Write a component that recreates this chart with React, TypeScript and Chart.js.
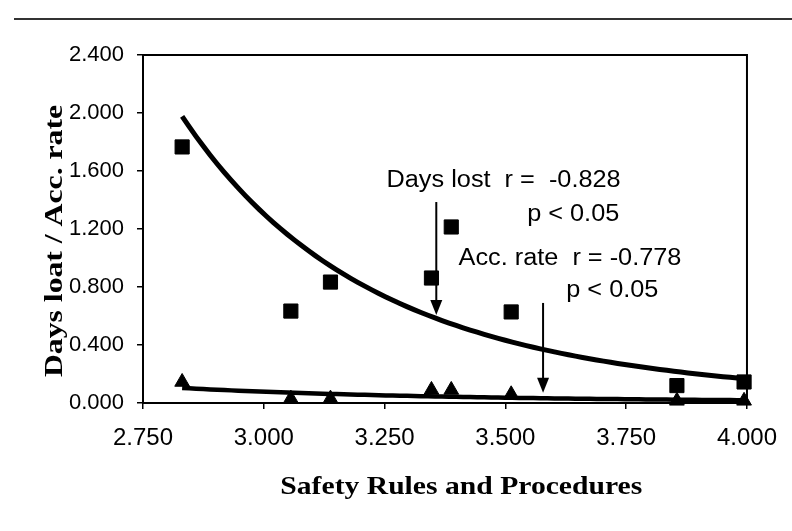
import React, { useEffect, useRef } from 'react';
import { Chart, registerables } from 'chart.js';

Chart.register(...registerables);

// Safety Rules and Procedures score per site, with days lost and accident rate
const safetyScores = [2.831, 3.056, 3.138, 3.347, 3.388, 3.512, 3.855, 3.994];
const daysLost = [1.766, 0.634, 0.834, 0.862, 1.214, 0.628, 0.12, 0.145];
const accRate = [0.145, 0.03, 0.03, 0.09, 0.09, 0.06, 0.015, 0.015];

const xTicks = [2.75, 3.0, 3.25, 3.5, 3.75, 4.0];
const yTicks = [0, 0.4, 0.8, 1.2, 1.6, 2.0, 2.4];

const xTitle = 'Safety Rules and Procedures';
const yTitle = 'Days loat / Acc. rate';

const noteTexts = ['Days lost  r =  -0.828', 'p < 0.05', 'Acc. rate  r = -0.778', 'p < 0.05'];
// anchor of each note line (left edge, baseline) in axis units
const noteAnchors = [
  { x: 3.254, y: 1.49 },
  { x: 3.545, y: 1.255 },
  { x: 3.403, y: 0.952 },
  { x: 3.626, y: 0.731 },
];
// pointer arrows: x position, start and tip in axis units
const arrowSpecs = [
  { x: 3.357, from: 1.386, to: 0.607 },
  { x: 3.578, from: 0.69, to: 0.07 },
];

const SANS = '"Liberation Sans", Arial, sans-serif';
const SERIF = '"Liberation Serif", "Times New Roman", serif';

// least-squares power trend line (y = a * x^b), like a spreadsheet trendline
function powerTrend(xs: number[], ys: number[], steps = 80) {
  const lx = xs.map(Math.log);
  const ly = ys.map(Math.log);
  const n = xs.length;
  const mx = lx.reduce((s, v) => s + v, 0) / n;
  const my = ly.reduce((s, v) => s + v, 0) / n;
  let sxy = 0;
  let sxx = 0;
  for (let i = 0; i < n; i++) {
    sxy += (lx[i] - mx) * (ly[i] - my);
    sxx += (lx[i] - mx) * (lx[i] - mx);
  }
  const b = sxy / sxx;
  const a = Math.exp(my - b * mx);
  const lo = Math.min(...xs);
  const hi = Math.max(...xs);
  const pts: { x: number; y: number }[] = [];
  for (let i = 0; i <= steps; i++) {
    const x = lo + ((hi - lo) * i) / steps;
    pts.push({ x, y: a * Math.pow(x, b) });
  }
  return pts;
}

function stretchedText(
  ctx: CanvasRenderingContext2D,
  text: string,
  x: number,
  y: number,
  font: string,
  sx: number,
  align: CanvasTextAlign = 'left',
  rotate = 0
) {
  ctx.save();
  ctx.translate(x, y);
  if (rotate) ctx.rotate(rotate);
  ctx.scale(sx, 1);
  ctx.font = font;
  ctx.fillStyle = '#000';
  ctx.textAlign = align;
  ctx.textBaseline = 'alphabetic';
  ctx.fillText(text, 0, 0);
  ctx.restore();
}

const framePlugin = {
  id: 'plotFrame',
  beforeDatasetsDraw(chart: any) {
    const { ctx, chartArea: a } = chart;
    ctx.save();
    ctx.strokeStyle = '#000';
    ctx.lineWidth = 2;
    ctx.beginPath();
    ctx.moveTo(a.left, a.top);
    ctx.lineTo(a.right, a.top);
    ctx.lineTo(a.right, a.bottom);
    ctx.stroke();
    ctx.restore();
  },
};

const notesPlugin = {
  id: 'notes',
  afterDraw(chart: any) {
    const { ctx } = chart;
    const xs = chart.scales.x;
    const ys = chart.scales.y;
    noteTexts.forEach((t, i) => {
      const p = noteAnchors[i];
      stretchedText(ctx, t, xs.getPixelForValue(p.x), ys.getPixelForValue(p.y), `23px ${SANS}`, 1.1);
    });
    arrowSpecs.forEach((ar) => {
      const px = xs.getPixelForValue(ar.x);
      const y0 = ys.getPixelForValue(ar.from);
      const y1 = ys.getPixelForValue(ar.to);
      const head = 15;
      ctx.save();
      ctx.strokeStyle = '#000';
      ctx.fillStyle = '#000';
      ctx.lineWidth = 2;
      ctx.beginPath();
      ctx.moveTo(px, y0);
      ctx.lineTo(px, y1 - head + 1);
      ctx.stroke();
      ctx.beginPath();
      ctx.moveTo(px, y1);
      ctx.lineTo(px - 6, y1 - head);
      ctx.lineTo(px + 6, y1 - head);
      ctx.closePath();
      ctx.fill();
      ctx.restore();
    });
    // axis titles
    const a = chart.chartArea;
    stretchedText(ctx, xTitle, a.left + (a.right - a.left) * 0.527, 494, `bold 26px ${SERIF}`, 1.14, 'center');
    stretchedText(ctx, yTitle, 62, (a.top + a.bottom) / 2 + 12, `bold 26px ${SERIF}`, 1.22, 'center', -Math.PI / 2);
  },
};

export default function App() {
  const canvasRef = useRef<HTMLCanvasElement | null>(null);

  useEffect(() => {
    const canvas = canvasRef.current;
    if (!canvas) return;
    const chart = new Chart(canvas, {
      type: 'scatter',
      data: {
        datasets: [
          {
            label: 'Days lost',
            data: safetyScores.map((x, i) => ({ x, y: daysLost[i] })),
            pointStyle: 'rect',
            pointRadius: 10,
            pointBackgroundColor: '#000',
            pointBorderColor: '#000',
            pointBorderWidth: 1,
            showLine: false,
            clip: false,
          },
          {
            label: 'Acc. rate',
            data: safetyScores.map((x, i) => ({ x, y: accRate[i] })),
            pointStyle: 'triangle',
            pointRadius: 8.5,
            pointBackgroundColor: '#000',
            pointBorderColor: '#000',
            pointBorderWidth: 1,
            showLine: false,
            clip: false,
          },
          {
            label: 'Days lost trend',
            data: powerTrend(safetyScores, daysLost),
            showLine: true,
            pointRadius: 0,
            borderColor: '#000',
            borderWidth: 5,
            tension: 0,
            clip: false,
          },
          {
            label: 'Acc. rate trend',
            data: powerTrend(safetyScores, accRate),
            showLine: true,
            pointRadius: 0,
            borderColor: '#000',
            borderWidth: 4.5,
            tension: 0,
            clip: false,
          },
        ],
      },
      options: {
        responsive: false,
        animation: false,
        events: [],
        layout: { padding: { top: 55, right: 44, left: 0, bottom: 0 } },
        plugins: {
          legend: { display: false },
          tooltip: { enabled: false },
          title: { display: false },
        },
        scales: {
          x: {
            type: 'linear',
            min: 2.75,
            max: 4.0,
            afterBuildTicks: (s: any) => {
              s.ticks = xTicks.map((v) => ({ value: v }));
            },
            afterFit: (s: any) => {
              s.height = 128;
            },
            ticks: {
              callback: (v: any) => Number(v).toFixed(3),
              font: { family: SANS, size: 24 },
              color: '#000',
              padding: 15,
              maxRotation: 0,
              autoSkip: false,
            },
            grid: {
              drawOnChartArea: false,
              drawTicks: true,
              tickLength: 6,
              color: '#000',
              lineWidth: 1.5,
            },
            border: { display: true, color: '#000', width: 2 },
          },
          y: {
            type: 'linear',
            min: 0,
            max: 2.4,
            afterBuildTicks: (s: any) => {
              s.ticks = yTicks.map((v) => ({ value: v }));
            },
            afterFit: (s: any) => {
              s.width = 143;
            },
            ticks: {
              callback: (v: any) => Number(v).toFixed(3),
              font: { family: SANS, size: 22 },
              color: '#000',
              padding: 13,
              autoSkip: false,
            },
            grid: {
              drawOnChartArea: false,
              drawTicks: true,
              tickLength: 6,
              color: '#000',
              lineWidth: 1.5,
            },
            border: { display: true, color: '#000', width: 2 },
          },
        },
      },
      plugins: [framePlugin, notesPlugin],
    });
    return () => chart.destroy();
  }, []);

  return (
    <div style={{ position: 'fixed', left: 0, top: 0, width: 792, height: 531, background: '#fff' }}>
      <div style={{ position: 'absolute', left: 14, right: 0, top: 18, height: 2, background: '#333' }} />
      <canvas ref={canvasRef} width={792} height={531} style={{ position: 'absolute', left: 0, top: 0 }} />
    </div>
  );
}
